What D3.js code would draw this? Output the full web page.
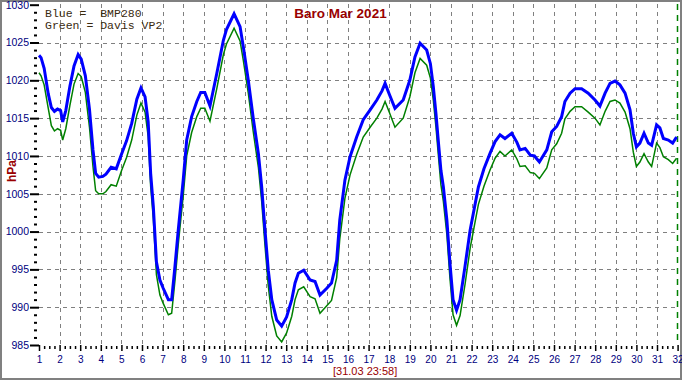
<!DOCTYPE html>
<html>
<head>
<meta charset="utf-8">
<script src="https://cdn.jsdelivr.net/npm/d3@7"></script>
<style>
  body { margin: 0; background: #fff; }
  svg { display: block; }
</style>
</head>
<body>
<svg id="baro" width="682" height="380"></svg>
<script>
// readings (day of month, hPa)
const days = [1.00,1.10,1.25,1.45,1.60,1.75,1.90,2.05,2.15,2.30,2.50,2.70,2.90,3.05,3.25,3.45,3.62,3.75,3.90,4.10,
  4.25,4.50,4.75,5.00,5.25,5.50,5.75,5.95,6.15,6.30,6.42,6.55,6.70,6.87,7.03,7.28,7.44,7.60,7.76,8.00,
  8.17,8.41,8.66,8.85,9.05,9.30,9.63,9.95,10.10,10.47,10.76,10.92,11.16,11.40,11.65,11.81,11.97,12.13,12.30,12.54,
  12.78,13.02,13.27,13.43,13.59,13.85,14.16,14.40,14.64,14.97,15.20,15.45,15.60,15.85,16.10,16.42,16.74,17.10,17.40,17.65,
  17.80,18.00,18.28,18.68,19.00,19.25,19.50,19.82,20.00,20.14,20.27,20.38,20.51,20.63,20.80,20.95,21.10,21.27,21.44,21.68,
  21.93,22.33,22.60,22.89,23.14,23.38,23.62,23.95,24.20,24.35,24.60,24.85,25.05,25.29,25.65,25.89,26.13,26.37,26.53,26.78,
  27.02,27.34,27.66,27.99,28.23,28.48,28.72,28.96,29.20,29.45,29.69,29.85,30.00,30.17,30.37,30.58,30.74,30.98,31.14,31.31,
  31.55,31.76,31.95];

const bmp280 = [1023.3,1023.0,1021.6,1018.2,1016.4,1015.9,1016.2,1016.0,1014.5,1016.0,1019.2,1021.9,1023.4,1022.8,1020.6,1016.2,1010.8,1007.7,1007.2,1007.3,
  1007.6,1008.5,1008.3,1010.2,1012.0,1014.3,1017.5,1019.0,1017.8,1014.5,1007.7,1003.3,996.0,993.6,992.5,991.0,991.0,995.4,1000.2,1006.8,
  1012.1,1015.2,1017.2,1018.4,1018.4,1016.6,1020.9,1025.3,1026.7,1028.8,1027.1,1024.4,1020.0,1015.0,1010.3,1005.9,1000.2,994.9,991.0,988.3,
  987.5,988.7,991.0,993.2,994.5,994.9,993.6,993.4,991.6,992.5,993.2,996.2,1001.5,1006.8,1009.9,1012.5,1014.8,1016.2,1017.4,1018.6,
  1019.6,1018.2,1016.3,1017.4,1020.0,1023.1,1024.9,1024.0,1022.2,1019.2,1015.6,1012.1,1008.1,1005.9,1001.5,995.8,991.0,989.6,991.0,995.4,
  1000.2,1005.9,1008.3,1010.3,1011.9,1012.8,1012.3,1013.0,1011.8,1010.8,1011.0,1010.1,1010.0,1009.2,1010.8,1013.2,1013.9,1015.2,1017.2,1018.3,
  1018.9,1018.9,1018.3,1017.4,1016.6,1018.3,1019.6,1019.9,1019.4,1018.3,1016.1,1013.0,1011.2,1011.7,1013.0,1011.7,1011.4,1014.1,1013.7,1012.3,
  1012.1,1011.7,1012.5];

const davisVP2 = [1021.0,1020.6,1019.4,1016.3,1014.0,1013.3,1013.6,1013.4,1012.1,1013.6,1016.7,1019.5,1020.9,1020.5,1018.4,1013.8,1008.6,1005.4,1005.0,1005.0,
  1005.3,1006.2,1006.0,1008.0,1009.8,1012.1,1015.4,1017.0,1015.8,1012.6,1006.0,1001.7,994.3,991.6,990.5,989.0,989.2,993.5,998.3,1004.7,
  1010.0,1013.1,1015.2,1016.3,1016.3,1014.6,1018.9,1023.4,1024.8,1026.9,1025.2,1022.6,1018.3,1013.2,1008.5,1004.0,998.2,992.8,988.8,986.2,
  985.4,986.6,988.8,991.0,992.3,992.7,991.4,991.1,989.2,990.2,990.9,993.9,999.0,1004.4,1007.5,1010.2,1012.5,1013.9,1015.0,1016.2,
  1017.2,1015.8,1013.8,1015.0,1017.8,1021.0,1022.9,1022.0,1020.3,1017.4,1013.8,1010.3,1006.2,1004.0,999.6,993.8,989.0,987.6,988.9,993.0,
  997.8,1003.6,1006.0,1008.1,1009.7,1010.6,1010.0,1010.8,1009.6,1008.6,1008.7,1007.8,1007.7,1007.0,1008.4,1010.8,1011.6,1013.0,1014.9,1015.9,
  1016.5,1016.5,1015.8,1015.0,1014.1,1015.9,1017.2,1017.4,1017.0,1015.8,1013.6,1010.5,1008.6,1009.2,1010.3,1009.2,1008.6,1011.7,1011.1,1009.9,
  1009.5,1009.0,1009.7];

const dayTicks = d3.range(1, 33);          // 1 .. 32
const hpaTicks = d3.range(985, 1031, 5);   // 985 .. 1030

const svg = d3.select('#baro');
const width = +svg.attr('width');
const height = +svg.attr('height');

const x = d3.scaleLinear().domain([1, 32]).range([39, 677.6]);
const y = d3.scaleLinear().domain([985, 1030]).range([345, 4.7]);

// outer frame
svg.append('rect')
  .attr('x', 1).attr('y', 1)
  .attr('width', width - 2).attr('height', height - 2)
  .attr('fill', '#fff')
  .attr('stroke', '#808080')
  .attr('stroke-width', 2);

// grid
const grid = svg.append('g')
  .attr('stroke', '#808080')
  .attr('stroke-width', 1)
  .attr('stroke-dasharray', '4,4')
  .attr('shape-rendering', 'crispEdges');

grid.selectAll('line.v')
  .data(dayTicks.filter(d => d > 1 && d < 32))
  .join('line')
  .attr('class', 'v')
  .attr('x1', d => Math.round(x(d)) + 0.5).attr('x2', d => Math.round(x(d)) + 0.5)
  .attr('y1', 4).attr('y2', y(985));

grid.selectAll('line.h')
  .data(hpaTicks.filter(d => d > 985 && d < 1030))
  .join('line')
  .attr('class', 'h')
  .attr('x1', x(1)).attr('x2', x(32))
  .attr('y1', d => Math.round(y(d)) + 0.5).attr('y2', d => Math.round(y(d)) + 0.5);

// right edge marker (green dashed)
svg.append('line')
  .attr('x1', Math.round(x(32)) - 0.5).attr('x2', Math.round(x(32)) - 0.5)
  .attr('y1', 4).attr('y2', y(985))
  .attr('stroke', '#008000')
  .attr('stroke-width', 1.5)
  .attr('stroke-dasharray', '6,5');

// y axis: major + minor ticks, no domain line
const yAxis = g => g
  .attr('transform', `translate(${x(1)},0)`)
  .call(d3.axisLeft(y).tickValues(hpaTicks).tickSize(9).tickPadding(1).tickFormat(d3.format('d')))
  .call(g => g.select('.domain').remove())
  .call(g => g.selectAll('line').attr('stroke-width', 2))
  .call(g => g.selectAll('text')
    .attr('fill', '#000080')
    .style('font-family', '"Liberation Sans Narrow", Arial, sans-serif')
    .style('font-size', '10.5px'));

svg.append('g')
  .attr('transform', `translate(${x(1) - 2},0)`)
  .call(d3.axisLeft(y).tickValues(d3.range(985, 1031, 1).filter(v => v % 5 !== 0)).tickSize(3).tickFormat(''))
  .call(g => g.select('.domain').remove())
  .call(g => g.selectAll('line').attr('stroke-width', 2));

svg.append('g').call(yAxis);

// x axis
const xAxis = g => g
  .attr('transform', `translate(0,${y(985)})`)
  .call(d3.axisBottom(x).tickValues(dayTicks).tickSize(6).tickPadding(5).tickFormat(d3.format('d')))
  .call(g => g.select('.domain').remove())
  .call(g => g.selectAll('line').attr('stroke-width', 1.5))
  .call(g => g.selectAll('text')
    .attr('fill', '#000080')
    .style('font-family', '"Liberation Sans Narrow", Arial, sans-serif')
    .style('font-size', '10px'));

svg.append('g')
  .attr('transform', `translate(0,${y(985) + 1})`)
  .call(d3.axisBottom(x).tickValues(d3.range(1, 32, 0.25).filter(d => d % 1 !== 0)).tickSize(3).tickFormat(''))
  .call(g => g.select('.domain').remove())
  .call(g => g.selectAll('line').attr('stroke-width', 1.5));

svg.append('g').call(xAxis);

// lines
const line = vals => d3.line()
  .x((d, i) => x(days[i]))
  .y(d => y(d))(vals);

svg.append('path')
  .attr('d', line(davisVP2))
  .attr('fill', 'none')
  .attr('stroke', '#008000')
  .attr('stroke-width', 1.5);

svg.append('path')
  .attr('d', line(bmp280))
  .attr('fill', 'none')
  .attr('stroke', '#0000ff')
  .attr('stroke-width', 3);

// texts
svg.append('text')
  .attr('x', 340.5).attr('y', 18)
  .attr('text-anchor', 'middle')
  .style('font-family', 'Arial, "Liberation Sans", sans-serif')
  .style('font-size', '13.5px')
  .style('font-weight', 'bold')
  .style('fill', '#990000')
  .text('Baro Mar 2021');

const legend = svg.append('g')
  .style('font-family', '"Courier New", "Liberation Mono", monospace')
  .style('font-size', '11.5px')
  .style('fill', '#3a2a10');
legend.append('text').attr('x', 45).attr('y', 16.5).attr('xml:space', 'preserve').text('Blue =  BMP280');
legend.append('text').attr('x', 45).attr('y', 29).attr('xml:space', 'preserve').text('Green = Davis VP2');

svg.append('text')
  .attr('transform', 'translate(15.5,171) rotate(-90)')
  .attr('text-anchor', 'middle')
  .style('font-family', 'Arial, "Liberation Sans", sans-serif')
  .style('font-size', '12px')
  .style('font-weight', 'bold')
  .style('fill', '#990000')
  .text('hPa');

svg.append('text')
  .attr('x', 333).attr('y', 375)
  .style('font-family', 'Arial, "Liberation Sans", sans-serif')
  .style('font-size', '11px')
  .style('fill', '#990000')
  .text('[31.03 23:58]');
</script>
</body>
</html>
